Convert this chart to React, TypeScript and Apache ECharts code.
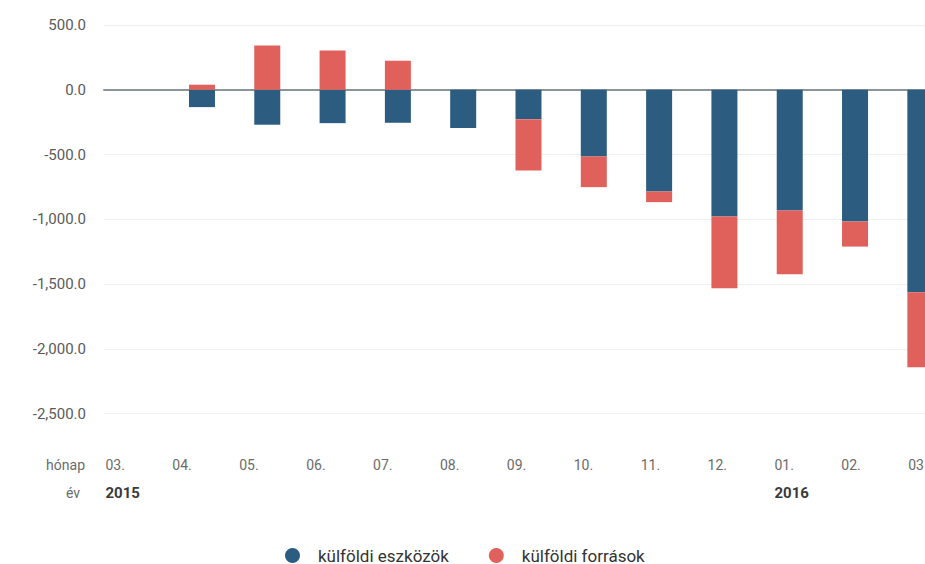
import React, { useEffect, useRef } from 'react';
import * as echarts from 'echarts';

// Monthly change, 2015.03 – 2016.03
const months = ['03.', '04.', '05.', '06.', '07.', '08.', '09.', '10.', '11.', '12.', '01.', '02.', '03'];
const years = ['2015', '', '', '', '', '', '', '', '', '', '2016', '', ''];
const assets = [0, -134, -270, -258, -255, -296, -227, -515, -786, -979, -933, -1018, -1564];
const liabilities = [0, 39, 342, 304, 224, 0, -397, -237, -82, -554, -491, -193, -579];
const seriesNames = ['külföldi eszközök', 'külföldi források'];
const rowTitles = ['hónap', 'év'];
const yTicks = { min: -2500, max: 500, interval: 500 };

const FONT = 'Roboto, "Noto Sans", sans-serif';
const BLUE = '#2c5c80';
const RED = '#e0605b';

const fmt = (v: number) =>
  v.toLocaleString('en-US', { minimumFractionDigits: 1, maximumFractionDigits: 1 });

export default function App() {
  const ref = useRef<HTMLDivElement>(null);

  useEffect(() => {
    const chart = echarts.init(ref.current!, null, { renderer: 'svg' });
    chart.setOption({
      animation: false,
      backgroundColor: '#ffffff',
      textStyle: { fontFamily: FONT },
      grid: [
        // bars
        { left: 104, width: 849, top: 25, height: 388.5 },
        // month / year tick rows
        { left: 72, width: 869.7, top: 25, height: 420 },
      ],
      xAxis: [
        {
          type: 'category',
          gridIndex: 0,
          data: months,
          axisLine: { onZero: true, lineStyle: { color: '#8a9599', width: 2 } },
          axisTick: { show: false },
          axisLabel: { show: false },
          splitLine: { show: false },
        },
        {
          type: 'category',
          gridIndex: 1,
          data: months,
          position: 'bottom',
          axisLine: { show: false },
          axisTick: { show: false },
          splitLine: { show: false },
          axisLabel: {
            interval: 0,
            align: 'left',
            verticalAlign: 'middle',
            margin: 20,
            fontSize: 14,
            color: '#6b6b6b',
            fontFamily: FONT,
          },
        },
        {
          type: 'category',
          gridIndex: 1,
          data: years,
          position: 'bottom',
          offset: 28,
          axisLine: { show: false },
          axisTick: { show: false },
          splitLine: { show: false },
          axisLabel: {
            interval: 0,
            align: 'left',
            verticalAlign: 'middle',
            margin: 20,
            fontSize: 15,
            fontWeight: 'bold',
            color: '#3a3a3a',
            fontFamily: FONT,
          },
        },
      ],
      yAxis: [
        {
          type: 'value',
          gridIndex: 0,
          min: yTicks.min,
          max: yTicks.max,
          interval: yTicks.interval,
          axisLine: { show: false },
          axisTick: { show: false },
          splitLine: { lineStyle: { color: '#efefef', width: 1 } },
          axisLabel: {
            margin: 18,
            fontSize: 15,
            color: '#5a5a5a',
            fontFamily: FONT,
            formatter: (v: number) => fmt(v),
          },
        },
        { type: 'value', gridIndex: 1, show: false },
      ],
      legend: {
        left: 280,
        top: 542,
        icon: 'circle',
        itemWidth: 15,
        itemHeight: 15,
        itemGap: 40,
        data: seriesNames,
        textStyle: { fontSize: 17, color: '#333333', fontFamily: FONT, padding: [0, 0, 0, 13] },
      },
      graphic: [
        {
          type: 'text',
          x: 85,
          y: 465,
          style: { text: rowTitles[0], align: 'right', verticalAlign: 'middle', fill: '#6b6b6b', font: `14px ${FONT}` },
        },
        {
          type: 'text',
          x: 80,
          y: 493,
          style: { text: rowTitles[1], align: 'right', verticalAlign: 'middle', fill: '#6b6b6b', font: `14px ${FONT}` },
        },
      ],
      series: [
        {
          name: seriesNames[0],
          type: 'bar',
          stack: 'total',
          xAxisIndex: 0,
          yAxisIndex: 0,
          barWidth: 26,
          itemStyle: { color: BLUE },
          data: assets,
        },
        {
          name: seriesNames[1],
          type: 'bar',
          stack: 'total',
          xAxisIndex: 0,
          yAxisIndex: 0,
          barWidth: 26,
          itemStyle: { color: RED },
          data: liabilities,
        },
      ],
    });
    return () => chart.dispose();
  }, []);

  return (
    <div
      style={{
        position: 'fixed',
        left: 0,
        top: 0,
        width: 925,
        height: 564,
        overflow: 'hidden',
        background: '#ffffff',
      }}
    >
      <div ref={ref} style={{ width: 960, height: 564 }} />
    </div>
  );
}
